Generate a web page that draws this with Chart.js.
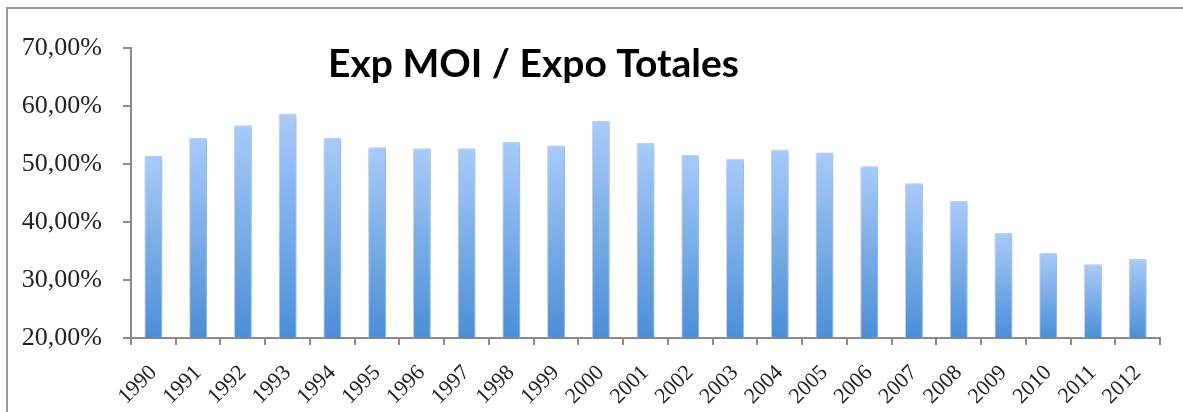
<!DOCTYPE html>
<html>
<head>
<meta charset="utf-8">
<script src="https://cdn.jsdelivr.net/npm/chart.js@4"></script>
<style>
  html, body { margin: 0; padding: 0; background: #fff; }
  #chart { display: block; }
</style>
</head>
<body>
<canvas id="chart" width="1183" height="412"></canvas>
<script>
// data
const years = ['1990', '1991', '1992', '1993', '1994', '1995', '1996', '1997', '1998', '1999', '2000',
  '2001', '2002', '2003', '2004', '2005', '2006', '2007', '2008', '2009', '2010', '2011', '2012'];
const shareMOI = [51.4, 54.5, 56.7, 58.7, 54.5, 52.9, 52.7, 52.7, 53.8, 53.2, 57.4,
  53.6, 51.6, 50.9, 52.5, 52.0, 49.6, 46.7, 43.6, 38.1, 34.7, 32.7, 33.6];
const yTicks = [20, 30, 40, 50, 60, 70];
const chartTitle = 'Exp MOI / Expo Totales';

const axisGray = '#8a8a8a';
const labelFont = "'Liberation Serif', 'DejaVu Serif', serif";

// vertical gradient per bar, light on top and darker at the base
function barGradient(context) {
  const chart = context.chart;
  if (!chart.chartArea || context.type !== 'data') return '#7aaee8';
  const y = chart.scales.y;
  const top = y.getPixelForValue(context.raw);
  const bottom = y.getPixelForValue(y.min);
  const g = chart.ctx.createLinearGradient(0, top, 0, bottom);
  g.addColorStop(0, '#a8cbf9');
  g.addColorStop(1, '#4a8fd7');
  return g;
}

const barShadow = {
  id: 'barShadow',
  beforeDatasetsDraw(chart) {
    const ctx = chart.ctx;
    ctx.save();
    ctx.shadowColor = 'rgba(0,0,0,0.22)';
    ctx.shadowBlur = 4;
    ctx.shadowOffsetX = 2;
    ctx.shadowOffsetY = 1;
  },
  afterDatasetsDraw(chart) {
    chart.ctx.restore();
  }
};

const frameAndTitle = {
  id: 'frameAndTitle',
  afterDraw(chart) {
    const ctx = chart.ctx;
    ctx.save();
    ctx.strokeStyle = '#9a9a9a';
    ctx.lineWidth = 2;
    ctx.beginPath();
    ctx.moveTo(7, chart.height);
    ctx.lineTo(7, 8);
    ctx.lineTo(chart.width, 8);
    ctx.stroke();

    ctx.fillStyle = '#000';
    ctx.font = "bold 39px Lato, 'Open Sans', sans-serif";
    ctx.textBaseline = 'alphabetic';
    ctx.textAlign = 'left';
    ctx.fillText(chartTitle, 328, 77);
    ctx.restore();
  }
};

new Chart(document.getElementById('chart'), {
  type: 'bar',
  data: {
    labels: years,
    datasets: [{
      label: chartTitle,
      data: shareMOI,
      backgroundColor: barGradient,
      borderColor: 'rgba(185,212,250,0.9)',
      borderWidth: 1,
      barPercentage: 0.4,
      categoryPercentage: 1
    }]
  },
  options: {
    responsive: false,
    animation: false,
    layout: { padding: { left: 0, top: 48, right: 23, bottom: 0 } },
    plugins: {
      legend: { display: false },
      title: { display: false },
      tooltip: { enabled: false }
    },
    scales: {
      y: {
        min: 20,
        max: 70,
        afterFit: s => { s.width = 131; },
        afterBuildTicks: s => { s.ticks = yTicks.map(v => ({ value: v })); },
        ticks: {
          color: '#222',
          padding: 21,
          font: { family: labelFont, size: 26 },
          callback: v => v.toFixed(2).replace('.', ',') + '%'
        },
        grid: { drawOnChartArea: false, drawTicks: true, tickLength: 8, color: axisGray, lineWidth: 2 },
        border: { display: true, color: axisGray, width: 2 }
      },
      x: {
        afterFit: s => { s.height = 74; },
        ticks: {
          color: '#222',
          padding: 15,
          autoSkip: false,
          minRotation: 45,
          maxRotation: 45,
          font: { family: labelFont, size: 22 }
        },
        grid: { drawOnChartArea: false, drawTicks: true, tickLength: 7, color: axisGray, lineWidth: 2 },
        border: { display: true, color: axisGray, width: 2 }
      }
    }
  },
  plugins: [barShadow, frameAndTitle]
});
</script>
</body>
</html>
